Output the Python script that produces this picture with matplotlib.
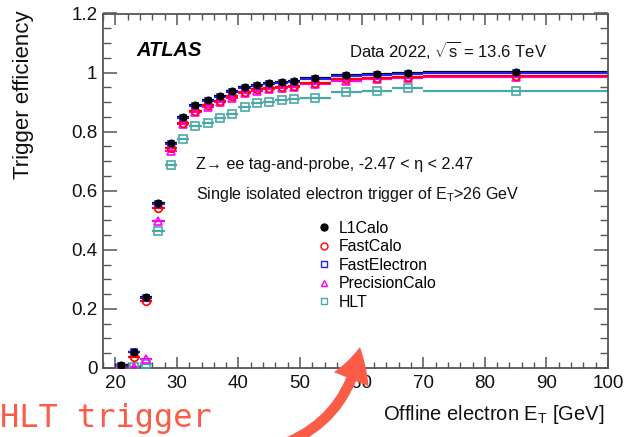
import numpy as np
import matplotlib
matplotlib.use("Agg")
import matplotlib.pyplot as plt
from matplotlib.lines import Line2D
from matplotlib.patches import FancyArrowPatch
from matplotlib.transforms import IdentityTransform
from matplotlib.ticker import MultipleLocator, FuncFormatter

plt.rcParams['font.family'] = ['Liberation Sans', 'DejaVu Sans']
plt.rcParams['mathtext.fontset'] = 'custom'
plt.rcParams['mathtext.rm'] = 'Liberation Sans'
plt.rcParams['mathtext.it'] = 'Liberation Sans:italic'

# ---- 数据：E_T 分箱与各触发级别效率 ----
bin_edges = [20, 22, 24, 26, 28, 30, 32, 34, 36, 38, 40, 42, 44, 46, 48, 50,
             55, 60, 65, 70, 100]

eff_l1calo = [0.010, 0.055, 0.242, 0.560, 0.763, 0.850, 0.889, 0.906, 0.921, 0.936,
              0.952, 0.959, 0.965, 0.968, 0.971, 0.981, 0.991, 0.996, 0.999, 1.001]
eff_fastcalo = [0.004, 0.038, 0.226, 0.543, 0.744, 0.831, 0.871, 0.889, 0.904, 0.920,
                0.935, 0.943, 0.948, 0.952, 0.955, 0.966, 0.977, 0.982, 0.985, 0.988]
eff_fastelectron = [0.008, 0.053, 0.238, 0.556, 0.759, 0.847, 0.886, 0.903, 0.918, 0.933,
                    0.949, 0.956, 0.962, 0.965, 0.968, 0.978, 0.988, 0.993, 0.996, 0.998]
eff_precisioncalo = [0.000, 0.003, 0.030, 0.497, 0.735, 0.825, 0.866, 0.884, 0.899, 0.915,
                     0.930, 0.938, 0.944, 0.948, 0.951, 0.962, 0.973, 0.978, 0.981, 0.984]
eff_hlt = [0.000, 0.002, 0.013, 0.463, 0.687, 0.774, 0.818, 0.829, 0.845, 0.860,
           0.884, 0.896, 0.901, 0.906, 0.909, 0.913, 0.934, 0.937, 0.947, 0.939]

edges = np.array(bin_edges, dtype=float)
centers = 0.5 * (edges[:-1] + edges[1:])
half_w = 0.5 * np.diff(edges)

RED_NOTE = '#fb5c47'
TEAL = '#4aa9a6'

# (数据, 标签, 颜色, 标记, 填充, 标记大小, 误差线层次, 标记层次)
series = [
    (eff_l1calo, 'L1Calo', 'black', 'o', 'black', 4.6, 2.0, 3.5),
    (eff_hlt, 'HLT', TEAL, 's', 'none', 5.5, 2.1, 3.0),
    (eff_precisioncalo, 'PrecisionCalo', '#ff00ff', '^', 'none', 5.5, 2.2, 3.2),
    (eff_fastcalo, 'FastCalo', '#ff0000', 'o', 'none', 5.5, 2.3, 3.3),
    (eff_fastelectron, 'FastElectron', '#2020ff', 's', 'none', 5.0, 2.4, 3.1),
]

fig = plt.figure(figsize=(6.26, 4.37), dpi=100)
ax = fig.add_axes([103 / 626, 1 - 368 / 437, 505 / 626, 354.5 / 437])

for vals, lab, col, mk, fc, ms, zl, zm in series:
    # 横向误差线（分箱宽度）
    ax.errorbar(centers, vals, xerr=half_w, fmt='none', ecolor=col,
                elinewidth=1.6, capsize=0, zorder=zl)
    ax.plot(centers, vals, ls='none', marker=mk, color=col, mfc=fc, mec=col,
            ms=ms, mew=1.2, zorder=zm)

ax.set_xlim(18, 100)
ax.set_ylim(0, 1.2)
ax.xaxis.set_major_locator(MultipleLocator(10))
ax.xaxis.set_minor_locator(MultipleLocator(2))
ax.yaxis.set_major_locator(MultipleLocator(0.2))
ax.yaxis.set_minor_locator(MultipleLocator(0.05))
ax.yaxis.set_major_formatter(FuncFormatter(lambda v, p: f"{v:g}"))
ax.tick_params(which='both', direction='in', top=True, right=True,
               color='#555555', labelsize=13.5, labelcolor='#111111')
ax.tick_params(axis='x', which='major', length=8, width=1.1, pad=5)
ax.tick_params(axis='x', which='minor', length=4.5, width=1.0)
ax.tick_params(axis='y', which='major', length=10, width=1.1, pad=4)
ax.tick_params(axis='y', which='minor', length=6, width=1.0)
for sp in ax.spines.values():
    sp.set_color('#555555')
    sp.set_linewidth(1.3)

# 轴标题（ROOT 风格：靠右/靠上对齐）
fig.text(24 / 626, 1 - 10 / 437, 'Trigger efficiency', rotation=90,
         ha='center', va='top', fontsize=16, color='#111111')
fig.text(604 / 626, 1 - 415 / 437, r'Offline electron E$_\mathrm{T}$ [GeV]',
         ha='right', va='center', fontsize=14.5, color='#111111')

# 图内文字
fig.text(136 / 626, 1 - 51 / 437, 'ATLAS', fontsize=14.5, fontweight='bold',
         fontstyle='italic', ha='left', va='center')
fig.text(349 / 626, 1 - 50 / 437, r'Data 2022, $\sqrt{\mathrm{s}}$ = 13.6 TeV',
         fontsize=12, ha='left', va='center', color='#111111')
fig.text(196 / 626, 1 - 164 / 437, 'Z\u2192 ee tag-and-probe, -2.47 < \u03b7 < 2.47',
         fontsize=11.6, ha='left', va='center', color='#111111')
fig.text(196 / 626, 1 - 194 / 437,
         r'Single isolated electron trigger of E$_\mathrm{T}$>26 GeV',
         fontsize=11.6, ha='left', va='center', color='#111111')

# 图例
legend_order = ['L1Calo', 'FastCalo', 'FastElectron', 'PrecisionCalo', 'HLT']
style = {s[1]: (s[2], s[3], s[4]) for s in series}
handles = []
for lab in legend_order:
    col, mk, fc = style[lab]
    handles.append(Line2D([], [], ls='none', marker=mk, color=col, mfc=fc,
                          mec=col, ms=5, mew=1.0, label=lab))
fig.legend(handles=handles, loc='upper left',
           bbox_to_anchor=(318 / 626, 1 - 221 / 437), frameon=False,
           fontsize=11.4, handlelength=0.8, handletextpad=0.5,
           labelspacing=0.22, borderpad=0, borderaxespad=0)

# 手写标注与箭头
fig.text(0, 1 - 418 / 437, 'HLT trigger', fontsize=23, color=RED_NOTE,
         family='DejaVu Sans Mono', ha='left', va='center')
arrow = FancyArrowPatch((276, -10), (360, 90), transform=IdentityTransform(),
                        arrowstyle='simple,head_length=24,head_width=27,tail_width=7.5',
                        connectionstyle='arc3,rad=0.3', mutation_scale=1,
                        color=RED_NOTE, lw=0, shrinkA=0, shrinkB=0, zorder=10)
fig.add_artist(arrow)

fig.savefig('out.png', dpi=100)
